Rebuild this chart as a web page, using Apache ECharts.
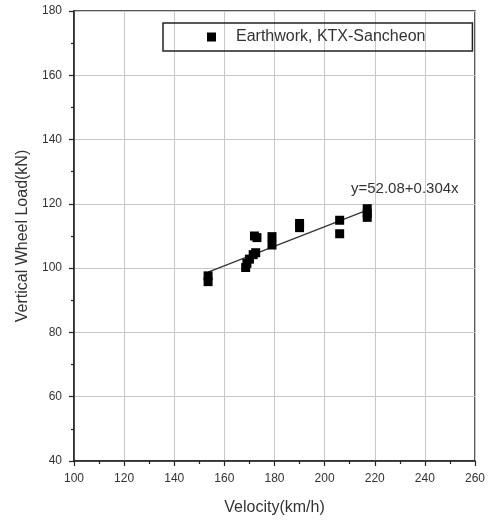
<!DOCTYPE html>
<html>
<head>
<meta charset="utf-8">
<script src="https://cdn.jsdelivr.net/npm/echarts@6/dist/echarts.min.js"></script>
<style>html,body{margin:0;padding:0;background:#fff}#c{width:489px;height:521px}</style>
</head>
<body>
<div id="c"></div>
<script>
const seriesName = 'Earthwork, KTX-Sancheon';
const velocity = [153.5, 153.5, 168.5, 169, 170, 171.5, 172.5, 172, 173, 179, 179, 190, 190, 206, 206, 217, 217, 217];
const load     = [97.6, 95.8, 100.2, 101.5, 102.8, 104.2, 104.8, 110, 109.5, 109.8, 107.2, 113.9, 112.6, 114.9, 110.7, 118.5, 117, 115.8];
const fitVelocity = [153.5, 217.5];
const fitLoad = [98.75, 118.2];
const equation = 'y=52.08+0.304x';
const xName = 'Velocity(km/h)';
const yName = 'Vertical Wheel Load(kN)';

const font = "'Liberation Sans', Arial, sans-serif";
const chart = echarts.init(document.getElementById('c'), null, {renderer: 'canvas'});
chart.setOption({
  animation: false,
  backgroundColor: '#fff',
  grid: {left: 74, right: 14, top: 11, bottom: 58, show: true, borderColor: '#222', borderWidth: 1.5, backgroundColor: 'transparent'},
  legend: {
    data: [seriesName],
    left: 163, top: 23,
    padding: [6, 47, 6, 44],
    icon: 'rect', itemWidth: 9, itemHeight: 9,
    borderColor: '#222', borderWidth: 1.5,
    textStyle: {fontFamily: font, fontSize: 16, color: '#333', padding: [0, 0, 0, 15]}
  },
  xAxis: {
    type: 'value', min: 100, max: 260, interval: 20,
    name: xName, nameLocation: 'middle', nameGap: 39,
    nameTextStyle: {fontFamily: font, fontSize: 16, color: '#333'},
    axisLine: {show: true, lineStyle: {color: '#222', width: 1.5}},
    axisTick: {show: true, inside: false, length: 5, lineStyle: {color: '#222', width: 1.2}},
    minorTick: {show: true, splitNumber: 2, length: 3, lineStyle: {color: '#222', width: 1.2}},
    axisLabel: {fontFamily: font, fontSize: 12, color: '#333', margin: 12},
    splitLine: {show: true, lineStyle: {color: '#c8c8c8', width: 1}}
  },
  yAxis: {
    type: 'value', min: 40, max: 180, interval: 20,
    name: yName, nameLocation: 'middle', nameGap: 39, nameRotate: 90,
    nameTextStyle: {fontFamily: font, fontSize: 16, color: '#333'},
    axisLine: {show: true, lineStyle: {color: '#222', width: 1.5}},
    axisTick: {show: true, inside: false, length: 5, lineStyle: {color: '#222', width: 1.2}},
    minorTick: {show: true, splitNumber: 2, length: 3, lineStyle: {color: '#222', width: 1.2}},
    axisLabel: {fontFamily: font, fontSize: 12, color: '#333', margin: 12},
    splitLine: {show: true, lineStyle: {color: '#c8c8c8', width: 1}}
  },
  series: [
    {
      name: 'fit', type: 'line', data: fitVelocity.map((v, i) => [v, fitLoad[i]]),
      symbol: 'none', lineStyle: {color: '#333', width: 1.2}, z: 2, silent: true
    },
    {
      name: seriesName, type: 'scatter', data: velocity.map((v, i) => [v, load[i]]),
      symbol: 'rect', symbolSize: 9, itemStyle: {color: '#000', opacity: 1}, z: 3
    }
  ],
  graphic: [{
    type: 'text', left: 351, top: 181,
    style: {text: equation, fontFamily: font, fontSize: 15, fill: '#333'}
  }]
});
</script>
</body>
</html>
